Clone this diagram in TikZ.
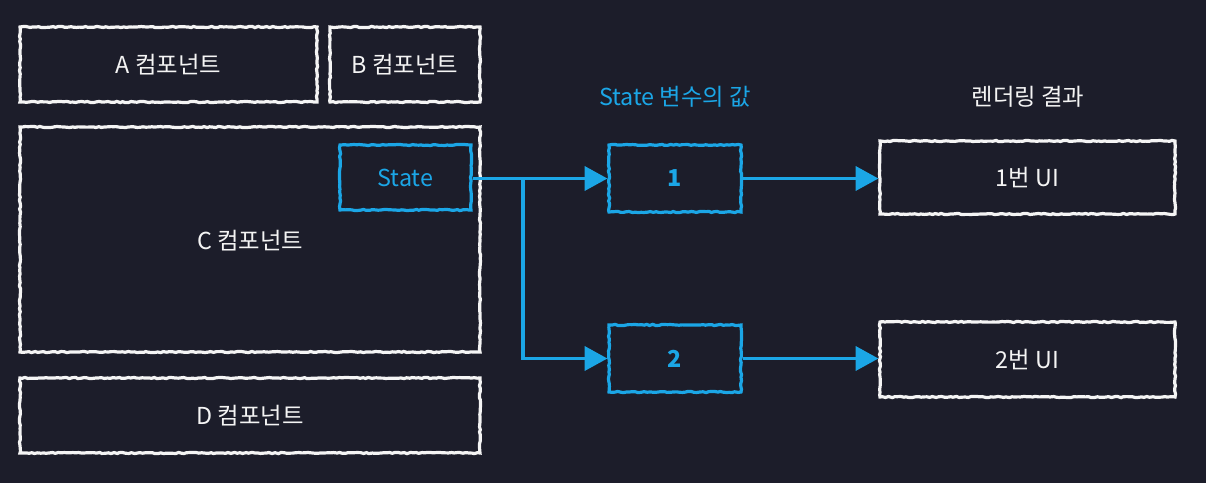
\documentclass[tikz,border=0pt]{standalone}
\usepackage{fontspec}
\setmainfont{Noto Sans CJK KR}
\usetikzlibrary{decorations.pathmorphing,arrows.meta}
\definecolor{bg}{HTML}{1C1D2A}
\definecolor{sblue}{HTML}{1BA6E6}
\definecolor{chalk}{HTML}{F4F4F4}
\tikzset{
  rough/.style={decorate,decoration={random steps,segment length=2.2pt,amplitude=0.45pt}},
  wbox/.style={draw=chalk,line width=2.4pt,rough,text=chalk,font=\fontsize{17.5}{20}\selectfont,inner sep=0pt},
  bbox/.style={draw=sblue,line width=2.4pt,rough,text=sblue,font=\fontsize{17.5}{20}\selectfont,inner sep=0pt},
  conn/.style={draw=sblue,line width=2.4pt,-{Triangle[length=17pt,width=18pt]}},
  lbl/.style={font=\fontsize{17.5}{20}\selectfont,inner sep=0pt}
}
\begin{document}
\begin{tikzpicture}[x=0.75pt,y=-0.75pt]
\useasboundingbox[fill=bg] (0,0) rectangle (1206,483);
\pgfmathsetseed{7}
\node[wbox,minimum width=297*0.75pt,minimum height=75*0.75pt] (A) at (168.5,64.5) {A 컴포넌트};
\node[wbox,minimum width=150*0.75pt,minimum height=75*0.75pt] (B) at (405,64.5) {B 컴포넌트};
\node[wbox,minimum width=460*0.75pt,minimum height=225*0.75pt] (C) at (250,239.5) {};
\node[text=chalk,lbl] (Clbl) at (250,241) {C 컴포넌트};
\node[wbox,minimum width=460*0.75pt,minimum height=75*0.75pt] (D) at (250,415.5) {D 컴포넌트};
\node[bbox,minimum width=131*0.75pt,minimum height=65*0.75pt] (S) at (405.5,177.5) {State};
\node[bbox,minimum width=132*0.75pt,minimum height=67*0.75pt,font=\fontsize{17.5}{20}\selectfont\bfseries] (V1) at (675,178.5) {1};
\node[bbox,minimum width=132*0.75pt,minimum height=67*0.75pt,font=\fontsize{17.5}{20}\selectfont\bfseries] (V2) at (675,358.5) {2};
\node[wbox,minimum width=295*0.75pt,minimum height=73*0.75pt] (U1) at (1027.5,177.5) {1번 UI};
\node[wbox,minimum width=295*0.75pt,minimum height=75*0.75pt] (U2) at (1027.5,359.5) {2번 UI};
\node[lbl,text=sblue] (H1) at (675,97) {State 변수의 값};
\node[lbl,text=chalk] (H2) at (1028,97) {렌더링 결과};
\coordinate (J) at (523,178.5);
\draw[conn] (S.east |- J) -- (V1.west);
\draw[conn] (J) |- (V2.west);
\draw[conn] (V1.east) -- (V1.east -| U1.west);
\draw[conn] (V2.east) -- (V2.east -| U2.west);
\end{tikzpicture}
\end{document}
